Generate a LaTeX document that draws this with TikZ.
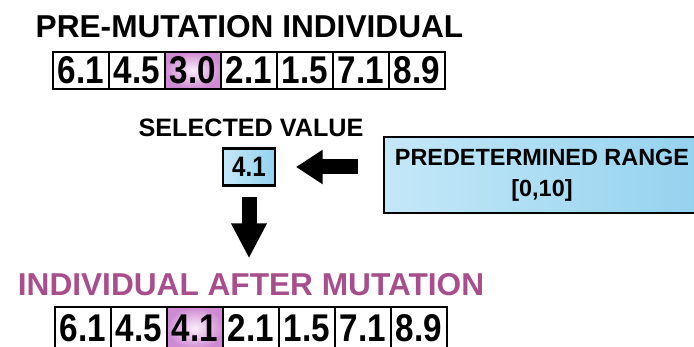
\documentclass[tikz,border=0pt]{standalone}
\usepackage{fontspec}
\setmainfont{Liberation Sans}
\newfontfamily\cellfont{Liberation Sans}[FakeStretch=0.86]
\usepackage{xcolor}
\usetikzlibrary{positioning,calc,matrix,arrows.meta}

\definecolor{titlepurple}{RGB}{168,78,140}
\definecolor{cellpink}{RGB}{206,138,210}
\definecolor{cellwhite}{RGB}{252,238,252}
\definecolor{boxblueL}{RGB}{196,232,248}
\definecolor{boxblueM}{RGB}{236,248,253}
\definecolor{boxblueR}{RGB}{148,210,238}

\begin{document}
\begin{tikzpicture}[x=0.03cm,y=-0.03cm,>=latex]
	
	\tikzset{
		title/.style={font=\fontsize{27}{27}\selectfont\bfseries, inner sep=0pt, anchor=base},
		label/.style={font=\fontsize{21.5}{21.5}\selectfont\bfseries, inner sep=0pt, anchor=base},
		cell/.style={draw=black, line width=2pt, fill=white, inner sep=0pt,
			minimum width=1.68cm, minimum height=1.11cm, text depth=0pt,
			font=\cellfont\fontsize{33}{33}\selectfont\bfseries},
		hl/.style={shading=radial, inner color=cellwhite, outer color=cellpink},
		bluebox/.style={draw=black, line width=2.2pt, left color=boxblueL,
			middle color=boxblueM, right color=boxblueR,
			font=\fontsize{20}{26.5}\selectfont\bfseries, align=center},
		bigarrow/.style={line width=0.45cm, draw=black}
	}
	
	\useasboundingbox (0,0) rectangle (694,347);
	\clip (0,0) rectangle (694,347);
	
	% ===== CA THE TRUOC DOT BIEN =====
	\node[title] (pretitle) at (249.5,38) {PRE-MUTATION INDIVIDUAL};
	
	\matrix (pre) [
	matrix of nodes,
	column sep=-2pt,
	nodes={cell},
	anchor=center
	] at (249,70.5) {
		6.1 & 4.5 & |[hl]| 3.0 & 2.1 & 1.5 & 7.1 & 8.9 \\
	};
	
	% ===== GIA TRI DUOC CHON =====
	\node[label] (sellabel) at (251,137) {SELECTED VALUE};
	
	\node[bluebox, minimum width=1.55cm, minimum height=1.12cm, inner sep=0pt,
	line width=2pt, text depth=0pt, font=\cellfont\fontsize{24}{24}\selectfont\bfseries]
	(sel) at (249,167) {4.1};
	
	% ===== KHOANG GIA TRI =====
	\node[bluebox, minimum width=9.48cm, minimum height=2.28cm] (range)
	at (542,175) {PREDETERMINED RANGE\\{}[0,10]};
	
	% ===== CA THE SAU DOT BIEN =====
	\node[title, text=titlepurple] (posttitle) at (251,296) {INDIVIDUAL AFTER MUTATION};
	
	\matrix (post) [
	matrix of nodes,
	column sep=-2pt,
	nodes={cell, minimum height=1.26cm},
	anchor=center
	] at (251,328) {
		6.1 & 4.5 & |[hl]| 4.1 & 2.1 & 1.5 & 7.1 & 8.9 \\
	};
	
	% ===== MUI TEN =====
	\draw[bigarrow, -{Triangle[length=0.8cm, width=0.98cm]},
	shorten <=0.75cm, shorten >=0.6cm]
	(range.west |- sel.east) -- (sel.east);
	
	\draw[bigarrow, -{Triangle[length=1.05cm, width=1cm]},
	shorten <=0.3cm, shorten >=0.46cm]
	(sel.south) -- (sel.south |- posttitle.north);
	
\end{tikzpicture}
\end{document}
